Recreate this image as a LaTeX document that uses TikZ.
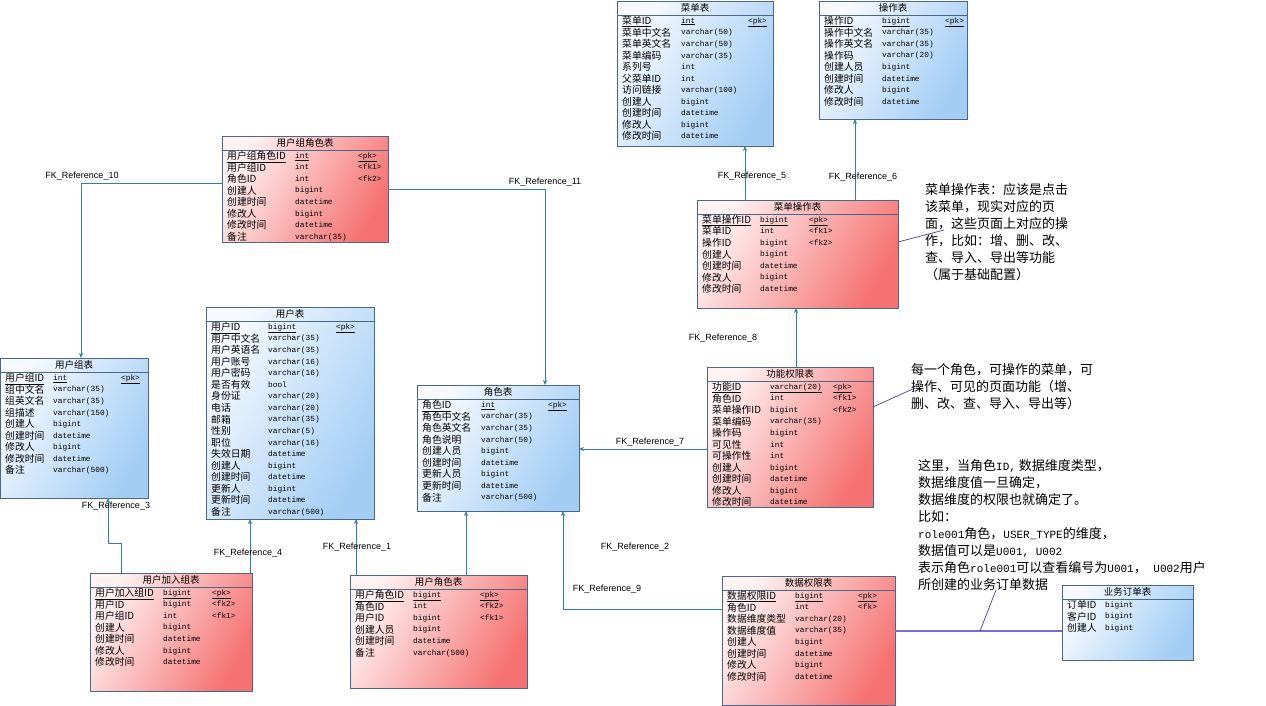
\documentclass[tikz,border=0pt]{standalone}
\usepackage{fontspec}
\usepackage{array}
\setmainfont{Noto Sans CJK SC}
\setsansfont{Liberation Sans}
\setmonofont{Liberation Mono}
\usetikzlibrary{arrows.meta, calc}
\definecolor{tblborder}{HTML}{4B6785}
\definecolor{tblblueA}{HTML}{F6FAFF}
\definecolor{tblblueB}{HTML}{A3CDF4}
\definecolor{tblredA}{HTML}{FFF2F2}
\definecolor{tblredB}{HTML}{F57272}
\definecolor{fkblue}{HTML}{2F80A8}
\definecolor{notepurple}{HTML}{4A3FA8}
\definecolor{datapurple}{HTML}{7B6BD6}
\newcommand{\typefont}{\ttfamily\fontsize{7.8}{11}\selectfont}
\newcommand{\lat}[1]{{\ttfamily\fontsize{11}{17}\selectfont #1}}
% name, fill style, top left, width, height, title, name col, type col, rows
\newcommand{\ertable}[9]{%
  \node[tblbox, #2, minimum width=#4, minimum height=#5] (#1) at (#3) {};
  \node[tbltitle] (#1-title) at ([yshift=-7]#1.north) {#6};
  \draw[tblline] ([yshift=-14]#1.north west) -- ([yshift=-14]#1.north east);
  \node[tblrows] (#1-rows) at ([xshift=5, yshift=-15]#1.north west) {%
    \begin{tabular}{@{}w{l}{#7}@{}>{\typefont\raise1.2pt\hbox\bgroup}w{l}{#8}<{\egroup}@{}>{\typefont\raise1.2pt\hbox\bgroup}l<{\egroup}@{}}#9\end{tabular}};
}

\begin{document}
\begin{tikzpicture}[x=1pt, y=-1pt,
    tblbox/.style={draw=tblborder, line width=0.6pt, anchor=north west, inner sep=0pt, outer sep=0pt},
    bluetbl/.style={left color=tblblueA, right color=tblblueB, shading angle=60},
    redtbl/.style={left color=tblredA, right color=tblredB, shading angle=60},
    tbltitle/.style={inner sep=0pt, font=\fontsize{9.5}{11}\selectfont},
    tblline/.style={draw=tblborder, line width=0.5pt},
    tblrows/.style={anchor=north west, inner sep=0pt, font=\fontsize{9.8}{11}\selectfont},
    fk/.style={draw=fkblue, line width=0.6pt, -{Stealth[length=5pt, width=4pt]}},
    fklabel/.style={inner sep=0pt, font=\sffamily\fontsize{9}{10}\selectfont},
    noteline/.style={draw=notepurple, line width=0.7pt},
    dataline/.style={draw=datapurple, line width=1.3pt},
    note/.style={anchor=north west, inner sep=0pt, align=left, font=\fontsize{13}{17}\selectfont}]
  \fill[white] (0,0) rectangle (1266,705);
  \useasboundingbox (0,0) rectangle (1266,705);

  % menu and operation tables
  \ertable{caidan}{bluetbl}{617,1}{156}{145}{菜单表}{59pt}{67pt}{%
    \underline{菜单ID} & \underline{int} & \underline{<pk>}\\
    菜单中文名 & varchar(50) & \\
    菜单英文名 & varchar(50) & \\
    菜单编码 & varchar(35) & \\
    系列号 & int & \\
    父菜单ID & int & \\
    访问链接 & varchar(100) & \\
    创建人 & bigint & \\
    创建时间 & datetime & \\
    修改人 & bigint & \\
    修改时间 & datetime & }
  \ertable{caozuo}{bluetbl}{819,1}{148}{118}{操作表}{58pt}{63pt}{%
    \underline{操作ID} & \underline{bigint} & \underline{<pk>}\\
    操作中文名 & varchar(35) & \\
    操作英文名 & varchar(35) & \\
    操作码 & varchar(20) & \\
    创建人员 & bigint & \\
    创建时间 & datetime & \\
    修改人 & bigint & \\
    修改时间 & datetime & }
  \ertable{cdczb}{redtbl}{697,200}{201}{108}{菜单操作表}{58pt}{49pt}{%
    \underline{菜单操作ID} & \underline{bigint} & \underline{<pk>}\\
    菜单ID & int & <fk1>\\
    操作ID & bigint & <fk2>\\
    创建人 & bigint & \\
    创建时间 & datetime & \\
    修改人 & bigint & \\
    修改时间 & datetime & }
  \ertable{gnqx}{redtbl}{707,367}{166}{140}{功能权限表}{58pt}{63pt}{%
    \underline{功能ID} & \underline{varchar(20)} & \underline{<pk>}\\
    角色ID & int & <fk1>\\
    菜单操作ID & bigint & <fk2>\\
    菜单编码 & varchar(35) & \\
    操作码 & bigint & \\
    可见性 & int & \\
    可操作性 & int & \\
    创建人 & bigint & \\
    创建时间 & datetime & \\
    修改人 & bigint & \\
    修改时间 & datetime & }

  % user, group and role tables
  \ertable{yhzjs}{redtbl}{222,136}{166}{106}{用户组角色表}{68pt}{63pt}{%
    \underline{用户组角色ID} & \underline{int} & \underline{<pk>}\\
    用户组ID & int & <fk1>\\
    角色ID & int & <fk2>\\
    创建人 & bigint & \\
    创建时间 & datetime & \\
    修改人 & bigint & \\
    修改时间 & datetime & \\
    备注 & varchar(35) & }
  \ertable{yhz}{bluetbl}{0,358}{148}{140}{用户组表}{48pt}{68pt}{%
    \underline{用户组ID} & \underline{int} & \underline{<pk>}\\
    组中文名 & varchar(35) & \\
    组英文名 & varchar(35) & \\
    组描述 & varchar(150) & \\
    创建人 & bigint & \\
    创建时间 & datetime & \\
    修改人 & bigint & \\
    修改时间 & datetime & \\
    备注 & varchar(500) & }
  \ertable{yh}{bluetbl}{206,307}{168}{212}{用户表}{57pt}{68pt}{%
    \underline{用户ID} & \underline{bigint} & \underline{<pk>}\\
    用户中文名 & varchar(35) & \\
    用户英语名 & varchar(35) & \\
    用户账号 & varchar(16) & \\
    用户密码 & varchar(16) & \\
    是否有效 & bool & \\
    身份证 & varchar(20) & \\
    电话 & varchar(20) & \\
    邮箱 & varchar(35) & \\
    性别 & varchar(5) & \\
    职位 & varchar(16) & \\
    失效日期 & datetime & \\
    创建人 & bigint & \\
    创建时间 & datetime & \\
    更新人 & bigint & \\
    更新时间 & datetime & \\
    备注 & varchar(500) & }
  \ertable{js}{bluetbl}{417,385}{162}{126}{角色表}{59pt}{67pt}{%
    \underline{角色ID} & \underline{int} & \underline{<pk>}\\
    角色中文名 & varchar(35) & \\
    角色英文名 & varchar(35) & \\
    角色说明 & varchar(50) & \\
    创建人员 & bigint & \\
    创建时间 & datetime & \\
    更新人员 & bigint & \\
    更新时间 & datetime & \\
    备注 & varchar(500) & }
  \ertable{yhjrz}{redtbl}{90,573}{162}{118}{用户加入组表}{68pt}{49pt}{%
    \underline{用户加入组ID} & \underline{bigint} & \underline{<pk>}\\
    用户ID & bigint & <fk2>\\
    用户组ID & int & <fk1>\\
    创建人 & bigint & \\
    创建时间 & datetime & \\
    修改人 & bigint & \\
    修改时间 & datetime & }
  \ertable{yhjs}{redtbl}{350,575}{177}{113}{用户角色表}{58pt}{67pt}{%
    \underline{用户角色ID} & \underline{bigint} & \underline{<pk>}\\
    角色ID & int & <fk2>\\
    用户ID & bigint & <fk1>\\
    创建人员 & bigint & \\
    创建时间 & datetime & \\
    备注 & varchar(500) & }

  % data permission and order tables
  \ertable{sjqx}{redtbl}{722,576}{173}{129}{数据权限表}{68pt}{63pt}{%
    \underline{数据权限ID} & \underline{bigint} & \underline{<pk>}\\
    角色ID & int & <fk>\\
    数据维度类型 & varchar(20) & \\
    数据维度值 & varchar(35) & \\
    创建人 & bigint & \\
    创建时间 & datetime & \\
    修改人 & bigint & \\
    修改时间 & datetime & }
  \ertable{ywdd}{bluetbl}{1062,585}{131}{75}{业务订单表}{38pt}{50pt}{%
    订单ID & bigint & \\
    客户ID & bigint & \\
    创建人 & bigint & }

  % references
  \draw[fk] ([yshift=-47]yhzjs.north west) -| ([xshift=81]yhz.north west);
  \draw[fk] ([yshift=-53]yhzjs.north east) -| ([xshift=128]js.north west);
  \draw[fk] ([xshift=48]cdczb.north west) -- ([xshift=128]caidan.south west);
  \draw[fk] ([xshift=158]cdczb.north west) -- ([xshift=36]caozuo.south west);
  \draw[fk] ([xshift=89]gnqx.north west) -- ([xshift=99]cdczb.south west);
  \draw[fk] ([yshift=-82]gnqx.north west) -- ([yshift=-64]js.north east);
  \draw[fk] ([xshift=31]yhjrz.north west) -- ++(0,-30) -| ([xshift=108]yhz.south west);
  \draw[fk] ([xshift=160]yhjrz.north west) -- ([xshift=44]yh.south west);
  \draw[fk] ([xshift=6]yhjs.north west) -- ([xshift=150]yh.south west);
  \draw[fk] ([xshift=116]yhjs.north west) -- ([xshift=49]js.south west);
  \draw[fk] ([yshift=-33]sjqx.north west) -| ([xshift=146]js.south west);

  \node[fklabel] (fk10) at (82,176) {FK\_Reference\_10};
  \node[fklabel] (fk11) at (545,182) {FK\_Reference\_11};
  \node[fklabel] (fk5) at (752,176) {FK\_Reference\_5};
  \node[fklabel] (fk6) at (863,177) {FK\_Reference\_6};
  \node[fklabel] (fk8) at (723,338) {FK\_Reference\_8};
  \node[fklabel] (fk7) at (650,442) {FK\_Reference\_7};
  \node[fklabel] (fk3) at (116,506) {FK\_Reference\_3};
  \node[fklabel] (fk4) at (248,553) {FK\_Reference\_4};
  \node[fklabel] (fk1) at (357,547) {FK\_Reference\_1};
  \node[fklabel] (fk2) at (635,547) {FK\_Reference\_2};
  \node[fklabel] (fk9) at (607,589) {FK\_Reference\_9};

  % notes
  \node[note] (note1) at (925,183) {菜单操作表：应该是点击\\该菜单，现实对应的页\\面，这些页面上对应的操\\作，比如：增、删、改、\\查、导入、导出等功能\\（属于基础配置）};
  \node[note] (note2) at (911,363) {每一个角色，可操作的菜单，可\\操作、可见的页面功能（增、\\删、改、查、导入、导出等）};
  \node[note] (note3) at (918,459) {这里，当角色\lat{ID,} 数据维度类型，\\数据维度值一旦确定，\\数据维度的权限也就确定了。\\比如：\\\lat{role001}角色，\lat{USER\_TYPE}的维度，\\数据值可以是\lat{U001, U002}\\表示角色\lat{role001}可以查看编号为\lat{U001}，\lat{ U002}用户\\所创建的业务订单数据};
  \coordinate (note1tip) at (944,230);
  \coordinate (note2tip) at (915,388);
  \coordinate (note3tip) at (996,590);
  \coordinate (datajoin) at (980,631);
  \draw[noteline] ([yshift=-42]cdczb.north east) -- (note1tip);
  \draw[noteline] ([yshift=-40]gnqx.north east) -- (note2tip);
  \draw[dataline] ([yshift=-55]sjqx.north east) -- ([yshift=-46]ywdd.north west);
  \draw[noteline] (datajoin) -- (note3tip);
\end{tikzpicture}
\end{document}
